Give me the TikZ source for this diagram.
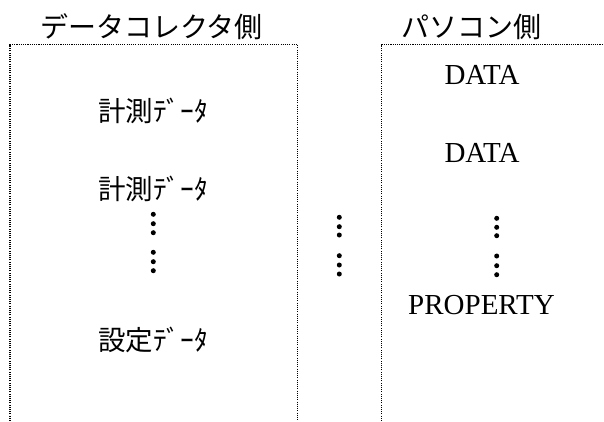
\documentclass[tikz,border=0pt]{standalone}
\usepackage{fontspec}
\setmainfont{Liberation Serif}
\newfontfamily\jpfont{Noto Sans CJK JP}
\begin{document}
\begin{tikzpicture}[x=1pt,y=-1pt,
  frame/.style={line width=1.3pt,dash pattern=on 1.1pt off 1.1pt},
  title/.style={font=\jpfont\fontsize{28}{32}\selectfont,inner sep=0pt},
  jlabel/.style={font=\jpfont\fontsize{27.5}{31}\selectfont,inner sep=0pt},
  elabel/.style={font=\fontsize{29}{33}\selectfont,inner sep=0pt},
  dot/.style={circle,fill=black,inner sep=0pt,minimum size=5pt}]
\useasboundingbox (0,0) rectangle (604,421);
% frames
\coordinate (lb) at (10,421);
\coordinate (lt) at (10,44.7);
\coordinate (rt) at (297.7,44.7);
\coordinate (rb) at (297.7,421);
\draw[frame] (lb) -- (lt) -- (rt) -- (rb);
\coordinate (pb) at (381.7,421);
\coordinate (pt) at (381.7,44.7);
\coordinate (pr) at (604,44.7);
\draw[frame] (pb) -- (pt) -- (pr);
% titles
\node[title] (t1) at (151.5,27) {データコレクタ側};
\node[title] (t2) at (471,27) {パソコン側};
% left texts
\node[jlabel] (m1) at (153,111) {計測ﾃﾞｰﾀ};
\node[jlabel] (m2) at (153,189) {計測ﾃﾞｰﾀ};
\node[jlabel] (s1) at (153,340) {設定ﾃﾞｰﾀ};
% right texts
\node[elabel] (d1) at (482,75) {DATA};
\node[elabel] (d2) at (482,152.5) {DATA};
\node[elabel] (p1) at (481.5,305.5) {PROPERTY};
% dots
\foreach \y [count=\i] in {214.3,223.7,232.7,252.3,261.7,270.7}
  \node[dot] (la\i) at (153.3,\y) {};
\foreach \y [count=\i] in {217.3,226.7,235,255.7,265,274}
  \node[dot] (ma\i) at (339.3,\y) {};
\foreach \y [count=\i] in {218.3,227.3,235.7,256,265.7,274.7}
  \node[dot] (ra\i) at (496.7,\y) {};
\end{tikzpicture}
\end{document}
